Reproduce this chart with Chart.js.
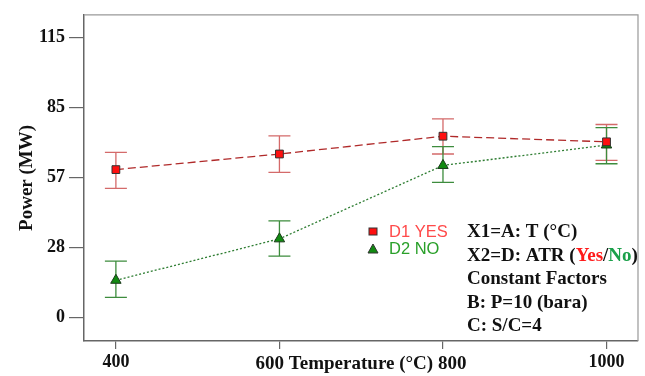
<!DOCTYPE html>
<html>
<head>
<meta charset="utf-8">
<script src="https://cdn.jsdelivr.net/npm/chart.js@4"></script>
<style>
  html,body{margin:0;padding:0;background:#fff;}
  #wrap{width:645px;height:376px;}
</style>
</head>
<body>
<div id="wrap"><canvas id="chart" width="645" height="376"></canvas></div>
<script>
// data
const temps = [400, 600, 800, 1000];
const yesPower = [60.7, 67.1, 74.4, 72.1];
const yesHigh  = [67.8, 74.5, 81.5, 79.2];
const yesLow   = [53.0, 59.6, 67.1, 64.5];
const noPower  = [15.3, 32.3, 62.4, 70.8];
const noHigh   = [23.2, 39.7, 70.1, 77.9];
const noLow    = [8.3, 25.2, 55.5, 63.1];
const yTickVals   = [0, 28.75, 57.5, 86.25, 115];
const yTickLabels = ['0', '28', '57', '85', '115'];
const xTickLabels = {400: '400', 1000: '1000'};

const C = {
  red:'#ff1010', redLine:'#b02a2a', redBar:'#d46a6a',
  green:'#118a11', greenLine:'#2e7d32', greenBar:'#3d8c3d',
  frame:'#666', serif:'"Liberation Serif","Times New Roman",serif'
};

const errorBars = {
  id:'errorBars',
  beforeDatasetsDraw(chart){
    const {ctx, scales:{x, y}} = chart;
    const sets = [[yesHigh, yesLow, C.redBar], [noHigh, noLow, C.greenBar]];
    ctx.save();
    ctx.lineWidth = 1.3;
    sets.forEach(([hi, lo, col]) => {
      ctx.strokeStyle = col;
      temps.forEach((t, i) => {
        const px = x.getPixelForValue(t), top = y.getPixelForValue(hi[i]), bot = y.getPixelForValue(lo[i]);
        ctx.beginPath();
        ctx.moveTo(px, top); ctx.lineTo(px, bot);
        ctx.moveTo(px - 11, top); ctx.lineTo(px + 11, top);
        ctx.moveTo(px - 11, bot); ctx.lineTo(px + 11, bot);
        ctx.stroke();
      });
    });
    ctx.restore();
  }
};

const frameAndNotes = {
  id:'frameAndNotes',
  afterDraw(chart){
    const {ctx, chartArea:a} = chart;
    ctx.save();
    // top and right edges of the box
    ctx.strokeStyle = '#999'; ctx.lineWidth = 1.2;
    ctx.beginPath(); ctx.moveTo(a.left, a.top); ctx.lineTo(a.right, a.top); ctx.lineTo(a.right, a.bottom); ctx.stroke();

    // legend
    ctx.font = '16.5px "Liberation Sans", Arial, sans-serif';
    ctx.textBaseline = 'middle';
    ctx.fillStyle = C.red; ctx.strokeStyle = '#333'; ctx.lineWidth = 1;
    ctx.fillRect(369, 228, 8, 7); ctx.strokeRect(369, 228, 8, 7);
    ctx.fillStyle = '#ff4a4a'; ctx.fillText('D1 YES', 389, 232);
    ctx.fillStyle = C.green;
    ctx.beginPath(); ctx.moveTo(373, 244); ctx.lineTo(378, 253); ctx.lineTo(368, 253); ctx.closePath(); ctx.fill(); ctx.stroke();
    ctx.fillStyle = '#2aa02a'; ctx.fillText('D2 NO', 389, 249);

    // factor notes
    ctx.font = 'bold 19px ' + C.serif;
    ctx.fillStyle = '#111';
    const x0 = 467;
    ctx.fillText('X1=A: T (°C)', x0, 232);
    let xx = x0;
    [['X2=D: ATR (', '#111'], ['Yes', '#ff1a1a'], ['/', '#111'], ['No', '#1aa04a'], [')', '#111']].forEach(([s, col]) => {
      ctx.fillStyle = col; ctx.fillText(s, xx, 256); xx += ctx.measureText(s).width;
    });
    ctx.fillStyle = '#111';
    ctx.fillText('Constant Factors', x0, 279);
    ctx.fillText('B: P=10 (bara)', x0, 303);
    ctx.fillText('C: S/C=4', x0, 326);
    ctx.restore();
  }
};

new Chart(document.getElementById('chart'), {
  type:'line',
  data:{datasets:[
    {label:'D1 YES', data:temps.map((t, i) => ({x:t, y:yesPower[i]})),
     borderColor:C.redLine, borderWidth:1.3, borderDash:[8,4], backgroundColor:C.red,
     pointStyle:'rect', pointRadius:5.5, pointBorderColor:'#333', pointBorderWidth:1, tension:0},
    {label:'D2 NO', data:temps.map((t, i) => ({x:t, y:noPower[i]})),
     borderColor:C.greenLine, borderWidth:1.3, borderDash:[2,2], backgroundColor:C.green,
     pointStyle:'triangle', pointRadius:6, pointBorderColor:'#1b3b1b', pointBorderWidth:1, tension:0}
  ]},
  options:{
    responsive:false, animation:false, parsing:false,
    layout:{padding:{top:8, right:4, left:0, bottom:0}},
    plugins:{legend:{display:false}, tooltip:{enabled:false}},
    scales:{
      x:{type:'linear', min:361, max:1038.5,
        afterBuildTicks:s => { s.ticks = temps.map(v => ({value:v})); },
        afterFit:s => { s.height = 35; },
        ticks:{color:'#111', font:{family:C.serif, size:18, weight:'bold'}, padding:3, maxRotation:0,
          callback:v => xTickLabels[v] || ''},
        grid:{drawOnChartArea:false, tickLength:8, color:C.frame, lineWidth:1.2},
        border:{color:C.frame, width:1.5},
        title:{display:true, text:'600 Temperature (°C) 800', color:'#111',
          font:{family:C.serif, size:19, weight:'bold'}, padding:{top:0, bottom:1}}
      },
      y:{type:'linear', min:-9.6, max:124.2,
        afterBuildTicks:s => { s.ticks = yTickVals.map(v => ({value:v})); },
        afterFit:s => { s.width = 84; },
        ticks:{color:'#111', font:{family:C.serif, size:18, weight:'bold'}, padding:4,
          callback:(v, i) => yTickLabels[i]},
        grid:{drawOnChartArea:false, tickLength:15, color:C.frame, lineWidth:1.2},
        border:{color:C.frame, width:1.5},
        title:{display:true, text:'Power (MW)', color:'#111',
          font:{family:C.serif, size:19, weight:'bold'}, padding:{top:16, bottom:0}}
      }
    }
  },
  plugins:[errorBars, frameAndNotes]
});
</script>
</body>
</html>
